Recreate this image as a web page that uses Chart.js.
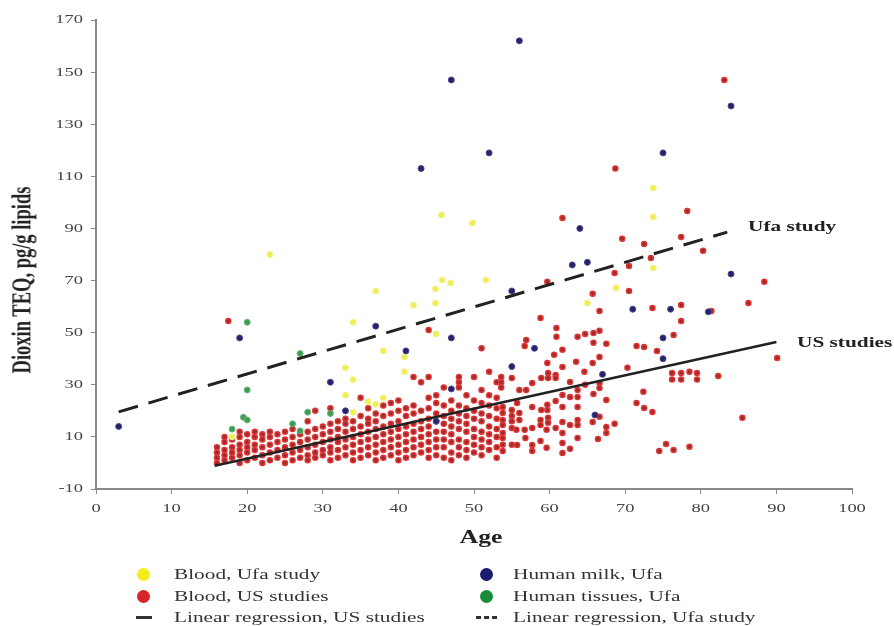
<!DOCTYPE html>
<html><head><meta charset="utf-8">
<script src="https://cdn.jsdelivr.net/npm/chart.js@4/dist/chart.umd.min.js"></script>
<style>
html,body{margin:0;padding:0;background:#fff;}
#wrap{position:relative;width:894px;height:626px;overflow:hidden;}
canvas{position:absolute;left:0;top:0;}
.sx{transform:scaleX(1.42);transform-origin:0 50%;}
.lg{position:absolute;font-family:"Liberation Serif","Times New Roman",serif;font-size:15px;color:#333;line-height:18px;white-space:nowrap;}
.dot{position:absolute;width:13px;height:13px;border-radius:50%;}
.ann{position:absolute;font-family:"Liberation Serif","Times New Roman",serif;font-weight:bold;font-size:15px;color:#222;line-height:18px;white-space:nowrap;}
.ttl{position:absolute;font-family:"Liberation Serif","Times New Roman",serif;font-weight:bold;color:#222;white-space:nowrap;text-align:center;}
</style></head>
<body>
<div id="wrap">
<canvas id="c" width="894" height="626"></canvas>
<div class="ttl" style="left:-128px;top:269px;width:300px;line-height:22px;font-size:18.5px;transform:rotate(-90deg) scaleY(1.42);transform-origin:50% 50%;">Dioxin TEQ, pg/g lipids</div>
<div class="ttl" style="left:381px;top:526px;width:200px;line-height:22px;font-size:18px;transform:scaleX(1.42);transform-origin:50% 50%;">Age</div>
<div class="ann sx" style="left:748px;top:217px;">Ufa study</div>
<div class="ann sx" style="left:797px;top:333px;">US studies</div>

<div class="dot" style="left:137px;top:568px;background:#f7ec1c;"></div>
<div class="lg sx" style="left:174px;top:565px;">Blood, Ufa study</div>
<div class="dot" style="left:137px;top:590px;background:#d8242a;"></div>
<div class="lg sx" style="left:174px;top:587px;">Blood, US studies</div>
<div style="position:absolute;left:136px;top:616px;width:16px;height:3px;background:#333;"></div>
<div class="lg sx" style="left:174px;top:608px;">Linear regression, US studies</div>

<div class="dot" style="left:480px;top:568px;background:#1c1a6e;"></div>
<div class="lg sx" style="left:513px;top:565px;">Human milk, Ufa</div>
<div class="dot" style="left:480px;top:590px;background:#1a8c3c;"></div>
<div class="lg sx" style="left:513px;top:587px;">Human tissues, Ufa</div>
<div style="position:absolute;left:476px;top:616px;width:5px;height:3px;background:#333;"></div>
<div style="position:absolute;left:484px;top:616px;width:5px;height:3px;background:#333;"></div>
<div style="position:absolute;left:492px;top:616px;width:5px;height:3px;background:#333;"></div>
<div class="lg sx" style="left:513px;top:608px;">Linear regression, Ufa study</div>
</div>
<script>
// ---- data (age, dioxin TEQ pg/g lipids) ----
const bloodUfa = [[18,10],[23,80],[33,36.5],[33,26],[34,54],[34,32],[34,19.5],[36,23.5],[37,22.5],[38,25],[37,66],[38,43],[40.8,40.7],[40.8,35],[42,60.6],[44.9,66.8],[44.9,61.4],[45,49.5],[45.8,70.2],[46.9,69.1],[51.6,70.2],[45.7,95.2],[49.8,92.1],[65,61.4],[68.8,67.2],[73.7,105.5],[73.7,94.4],[73.7,74.8]];

const humanMilkUfa = [[3,14],[19,48],[31,31],[33,20],[37,52.5],[41,43],[43,113],[47,147],[47,48],[47,28.4],[45,16],[52,119],[55,66],[55,37],[56,162],[58,44],[63,76],[65,77],[64,90],[66,18.4],[67,34],[71,59],[75,119],[75,48],[75,40],[76,59],[81,58],[84,137],[84,72.5]];

const humanTissuesUfa = [[20,54],[27,42],[20,28],[19.5,17.5],[20,16.5],[18,13],[26,15],[27,12.3],[28,19.5],[31,19]];

const bloodUS = [
[16,0],[16,2],[16,4],[16,6],
[17,1],[17,3],[17,5],[17,8],[17,10],
[18,2],[18,4],[18,6],[18,9],
[19,0],[19,3],[19,5],[19,7],[19,10],[19,12],
[20,1],[20,4],[20,6],[20,8],[20,11],
[21,2],[21,5],[21,7],[21,10],[21,12],
[22,0],[22,3],[22,6],[22,9],[22,11],
[23,1],[23,4],[23,7],[23,10],[23,12],
[24,2],[24,5],[24,8],[24,11],
[25,0],[25,3],[25,6],[25,9],[25,12],
[26,1],[26,4],[26,7],[26,10],[26,13],
[27,2],[27,5],[27,8],[27,11],
[28,1],[28,3],[28,6],[28,9],[28,12],[28,16],
[29,2],[29,4],[29,7],[29,10],[29,13],[29,20],
[30,3],[30,5],[30,8],[30,11],[30,14],
[31,1],[31,4],[31,6],[31,9],[31,12],[31,15],[31,21],
[32,2],[32,5],[32,8],[32,10],[32,13],[32,16],
[33,3],[33,6],[33,9],[33,12],[33,15],[33,17],
[34,1],[34,4],[34,7],[34,10],[34,13],[34,16],
[35,2],[35,5],[35,8],[35,11],[35,14],[35,18],[35,25],
[36,3],[36,6],[36,9],[36,12],[36,15],[36,17],[36,21],
[37,1],[37,4],[37,7],[37,10],[37,13],[37,16],[37,19],
[38,2],[38,5],[38,8],[38,11],[38,14],[38,18],[38,22],
[39,3],[39,6],[39,9],[39,12],[39,15],[39,19],[39,23],
[40,1],[40,4],[40,7],[40,10],[40,13],[40,16],[40,20],[40,24],
[41,2],[41,5],[41,8],[41,11],[41,14],[41,18],[41,21],
[42,3],[42,6],[42,9],[42,12],[42,15],[42,19],[42,22],[42,33],
[43,4],[43,7],[43,10],[43,13],[43,16],[43,20],[43,31],
[44,2],[44,5],[44,8],[44,11],[44,14],[44,17],[44,21],[44,25],[44,33],[44,51],
[45,3],[45,6],[45,9],[45,12],[45,16],[45,19],[45,23],[45,26],
[46,2],[46,6],[46,9],[46,12],[46,15],[46,18],[46,22],[46,29],
[47,1],[47,4],[47,8],[47,11],[47,14],[47,17],[47,20],[47,24],
[48,3],[48,6],[48,9],[48,13],[48,16],[48,19],[48,22],[48,29],[48,31],[48,33],
[49,2],[49,5],[49,8],[49,12],[49,15],[49,18],[49,21],[49,26],
[50,4],[50,7],[50,10],[50,13],[50,17],[50,20],[50,24],[50,33],
[51,3],[51,6],[51,9],[51,12],[51,16],[51,19],[51,23],[51,28],[51,44],
[52,5],[52,8],[52,11],[52,14],[52,18],[52,22],[52,26],[52,35],
[53,2],[53,6],[53,10],[53,13],[53,17],[53,21],[53,25],[53,31],
[53.8,4.6],[53.8,7],[53.8,9.6],[53.8,11.5],[53.8,14.6],[53.8,16.5],[53.8,19.2],[53.8,21.5],[53.6,29],[53.6,31],[53.6,33],
[55,7],[55,13.4],[55,16],[55,18],[55,20.3],[55.7,23],[55.7,6.9],[55,32.6],[55.6,12.7],
[56,16.5],[56,19.2],[56.9,28],[56,28],[56.7,12.7],[56.8,9.6],[56.9,47.2],[56.7,44.9],
[57.7,21.5],[57.7,13.4],[57.7,6.9],[57.7,4.6],[57.7,30.7],
[58.8,16.5],[58.8,14.6],[58.8,8.4],[58.9,20.3],[58.9,32.6],[58.8,55.6],
[59.8,17.3],[59.8,15.4],[59.7,22.3],[59.7,20.3],[59.6,5.8],[59.6,12.7],[59.7,38.4],[59.8,34.5],[59.8,32.6],[59.7,69.5],
[60.8,33.8],[60.8,32.6],[60.8,23.8],[60.8,13.4],[60.9,51.8],[60.9,48.4],[60.6,41.5],
[61.7,43.4],[61.7,36.8],[61.7,26.1],[61.7,21.5],[61.7,15.7],[61.7,11.5],[61.7,7.7],[61.7,3.8],[61.7,94],
[62.7,31.1],[62.7,25.3],[62.7,14.6],[62.7,5.4],
[63.7,28],[63.7,25.3],[63.7,21.5],[63.7,16.5],[63.7,14.6],[63.7,9.6],[63.5,38.8],[63.7,48.4],
[64.7,49.5],[64.6,35],[64.7,30],
[65.8,49.9],[65.8,46.1],[65.7,38.4],[65.8,26.5],[65.7,15.7],[65.7,64.9],
[66.6,50.7],[66.6,40.7],[66.6,30.7],[66.6,28.8],[66.6,17.7],[66.4,9.2],[66.6,58.3],
[67.5,45.7],[67.5,24.2],[67.5,13.8],[67.5,11.5],
[68.6,15],[68.6,72.9],[68.7,113],
[70.5,75.6],[70.5,66],[70.3,36.5],[69.6,86],[71.5,44.9],[71.5,23],
[72.5,44.5],[72.4,27.3],[72.5,21.1],[72.5,84],[73.6,19.6],[73.6,59.5],[73.4,78.7],[74.2,43],
[74.5,4.6],[75.4,7.3],[76.4,5],[78.5,6.2],[76.4,49.1],[77.4,54.5],[77.4,60.6],[81.4,58.3],[80.3,81.4],[77.4,86.7],[78.2,96.7],[83.1,147],[85.5,17.3],[86.3,61.4],[88.4,69.5],[90.1,40.3],[82.3,33.4],
[76.2,34.5],[77.4,34.5],[78.5,35],[79.5,34.5],[76.2,32],[77.4,32],[79.5,32],
[17.5,54.5]
];

const regressionUS = [[15.7,-1.1],[90,46.4]];
const regressionUfa = [[3,19.6],[83.5,88.6]];

const xTicks = {min:0, max:100, step:10};
const yTicks = {min:-10, max:170, step:20};

// ---- chart ----
const pts = a => a.map(p => ({x:p[0], y:p[1]}));
const serif = '"Liberation Serif","Times New Roman",serif';
const STRETCH = 1.42;

const stretchedTicks = {
  id:'stretchedTicks',
  afterDraw(chart){
    const ctx = chart.ctx, sx = chart.scales.x, sy = chart.scales.y, ca = chart.chartArea;
    ctx.save();
    ctx.fillStyle = '#444';
    ctx.font = '13px ' + serif;
    ctx.textBaseline = 'middle';
    sx.ticks.forEach(t => {
      const px = sx.getPixelForValue(t.value);
      ctx.save(); ctx.translate(px, ca.bottom + 20); ctx.scale(STRETCH, 1);
      ctx.textAlign = 'center'; ctx.fillText(String(t.value), 0, 0); ctx.restore();
    });
    sy.ticks.forEach(t => {
      const py = sy.getPixelForValue(t.value);
      ctx.save(); ctx.translate(ca.left - 13, py); ctx.scale(STRETCH, 1);
      ctx.textAlign = 'right'; ctx.fillText(String(t.value), 0, 0); ctx.restore();
    });
    ctx.restore();
  }
};

new Chart(document.getElementById('c'), {
  type: 'scatter',
  data: {
    datasets: [
      {label:'Linear regression, US studies', type:'line', data:pts(regressionUS), borderColor:'#222', borderWidth:2.6, pointRadius:0, fill:false, order:0},
      {label:'Linear regression, Ufa study', type:'line', data:pts(regressionUfa), borderColor:'#222', borderWidth:3, borderDash:[20,11], pointRadius:0, fill:false, order:0},
      {label:'Human milk, Ufa', data:pts(humanMilkUfa), backgroundColor:'#23226a', borderColor:'#4a4a8c', borderWidth:1, pointRadius:3, order:1},
      {label:'Human tissues, Ufa', data:pts(humanTissuesUfa), backgroundColor:'#3f9a55', borderColor:'#6ab878', borderWidth:1, pointRadius:3, order:2},
      {label:'Blood, Ufa study', data:pts(bloodUfa), backgroundColor:'#eeee55', borderColor:'#f4f08a', borderWidth:1, pointRadius:3, order:3},
      {label:'Blood, US studies', data:pts(bloodUS), backgroundColor:'#9a2c2c', borderColor:'#e03535', borderWidth:1.5, pointRadius:2.5, order:4}
    ]
  },
  plugins:[stretchedTicks],
  options: {
    responsive:false, animation:false,
    layout:{padding:{top:20, right:42, bottom:117, left:0}},
    plugins:{legend:{display:false}, tooltip:{enabled:false}},
    scales:{
      x:{type:'linear', min:xTicks.min, max:xTicks.max,
         ticks:{stepSize:xTicks.step, display:false},
         grid:{drawOnChartArea:false, drawTicks:true, tickLength:5, color:'#888'},
         border:{color:'#888', width:2},
         afterFit(s){ s.height = 20; }},
      y:{type:'linear', min:yTicks.min, max:yTicks.max,
         ticks:{stepSize:yTicks.step, display:false},
         grid:{drawOnChartArea:false, drawTicks:true, tickLength:5, color:'#888'},
         border:{color:'#888', width:2},
         afterFit(s){ s.width = 96; }}
    }
  }
});
</script>
</body></html>
